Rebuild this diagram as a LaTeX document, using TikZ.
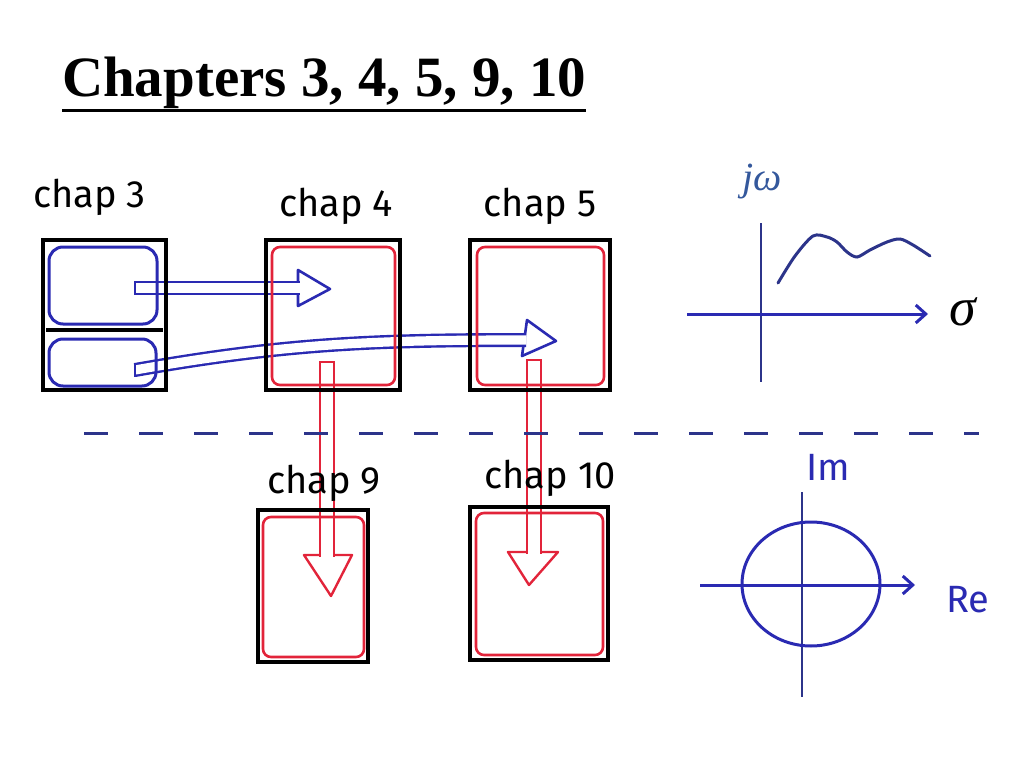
\documentclass[tikz,border=0pt]{standalone}
\usepackage{fontspec}
\setmainfont{Liberation Serif}
\newfontfamily\handfont{Fira Sans}
\usetikzlibrary{positioning,calc,arrows.meta}
\definecolor{inkred}{RGB}{226,36,58}
\definecolor{inkblue}{RGB}{42,42,178}
\definecolor{inknavy}{RGB}{44,52,138}
\definecolor{labelblue}{RGB}{52,88,156}
\begin{document}
\begin{tikzpicture}[x=0.5pt,y=0.5pt]
\tikzset{ >={Straight Barb[length=5pt,width=9pt]}, inner sep=0pt, outer sep=0pt,
  box/.style={draw, line width=2pt},
  redbox/.style={draw=inkred, line width=1.3pt, rounded corners=4pt},
  bluebox/.style={draw=inkblue, line width=1.5pt, rounded corners=7pt},
  chaplbl/.style={font=\handfont\fontsize{19}{23}\selectfont},
  axislbl/.style={text=inkblue, font=\handfont\fontsize{19}{22}\selectfont},
  bshaft/.style={draw=inkblue, line width=1.2pt, double=white, double distance=4.6pt},
  rshaft/.style={draw=inkred, line width=1.2pt, double=white, double distance=5.6pt},
  bhead/.style={draw=inkblue, line width=1.3pt, fill=white, line join=round},
  rhead/.style={draw=inkred, line width=1.2pt, fill=white, line join=round},
}
\useasboundingbox (0,0) rectangle (1024,768);

% title
\node [anchor=base west, font=\bfseries\fontsize{28.5}{34}\selectfont] (title) at (62,671) {Chapters 3, 4, 5, 9, 10};
\draw [line width=1.5pt] ($(title.base west)+(0,-13)$) -- ($(title.base east)+(0,-13)$);

% hollow arrows
\coordinate (a1s) at (135,480);
\coordinate (a1e) at (298,480);
\coordinate (a1t) at (330,479);
\draw [bhead] ($(a1e)+(0,18)$) -- (a1t) -- ($(a1e)+(0,-18)$) -- cycle;
\draw [bshaft] (a1s) -- ($(a1e)+(2,0)$);
\draw [inkblue, line width=1.2pt] ($(a1s)+(0,7)$) -- ($(a1s)+(0,-7)$);

\coordinate (a2s) at (135,398);
\coordinate (a2e) at (524,428);
\coordinate (a2t) at (556,427);
\draw [bhead] ($(a2e)+(3,20)$) -- (a2t) -- ($(a2e)+(-2,-16)$) -- cycle;
\draw [bshaft] (a2s) to[out=10,in=180] ($(a2e)+(2,0)$);
\draw [inkblue, line width=1.2pt] ($(a2s)+(0,7)$) -- ($(a2s)+(0,-7)$);

\coordinate (r1s) at (327,406);
\coordinate (r1e) at (327,213);
\coordinate (r1t) at (331,172);
\draw [rhead] ($(r1e)+(-23,0)$) -- (r1t) -- ($(r1e)+(25,0)$) -- cycle;
\draw [rshaft] (r1s) -- ($(r1e)+(0,-2)$);
\draw [inkred, line width=1.2pt] ($(r1s)+(-8,0)$) -- ($(r1s)+(8,0)$);

\coordinate (r2s) at (534,408);
\coordinate (r2e) at (534,216);
\coordinate (r2t) at (529,183);
\draw [rhead] ($(r2e)+(-26,0)$) -- (r2t) -- ($(r2e)+(24,0)$) -- cycle;
\draw [rshaft] (r2s) -- ($(r2e)+(0,-2)$);
\draw [inkred, line width=1.2pt] ($(r2s)+(-8,0)$) -- ($(r2s)+(8,0)$);

% chapter boxes
\node [box, minimum width=61.5pt, minimum height=75pt] (c3) at (104.5,453) {};
\node [box, minimum width=67pt, minimum height=75pt] (c4) at (333,453) {};
\node [box, minimum width=70pt, minimum height=75pt] (c5) at (540,453) {};
\node [box, minimum width=55pt, minimum height=76pt] (c9) at (313,182) {};
\node [box, minimum width=69pt, minimum height=76.5pt] (c10) at (539,184.5) {};

\node [bluebox, minimum width=54pt, minimum height=38.5pt] (b3a) at (103,482.5) {};
\node [bluebox, minimum width=53.5pt, minimum height=23.5pt] (b3b) at (102.5,405.5) {};
\draw [line width=2pt] (46,438) -- (163,438);

\node [redbox, minimum width=61.5pt, minimum height=69pt] (r4) at (333.5,452) {};
\node [redbox, minimum width=63.5pt, minimum height=69pt] (r5) at (540.5,452) {};
\node [redbox, minimum width=50.5pt, minimum height=70pt] (r9) at (313.5,181) {};
\node [redbox, minimum width=63.5pt, minimum height=71pt] (r10) at (539.5,184) {};

\node [chaplbl, above=12pt of c3, xshift=-7.5pt] (l3) {chap 3};
\node [chaplbl, above=7.5pt of c4, xshift=1.5pt] (l4) {chap 4};
\node [chaplbl, above=7.5pt of c5] (l5) {chap 5};
\node [chaplbl, above=4pt of c9, xshift=5.5pt] (l9) {chap 9};
\node [chaplbl, above=5pt of c10, xshift=5.5pt] (l10) {chap 10};

\draw [inknavy, line width=1.5pt, dash pattern=on 12pt off 15.5pt] (84,335) -- (979,335);

% s-plane
\draw [inknavy, line width=1.3pt] (761,545) -- (761,386);
\draw [inkblue, line width=1.5pt, ->] (687,454) -- (928,454);
\draw [inknavy, line width=1.5pt, line cap=round] plot[smooth] coordinates {(778,485) (795,512) (813,532) (827,531) (837,526) (847,516) (857,511) (870,518) (887,526) (900,529) (913,523) (930,512)};
\node [text=labelblue, font=\itshape\fontsize{20}{24}\selectfont] (jw) at (762,586) {jω};
\node [font=\itshape\fontsize{27}{32}\selectfont] (sig) at (963,456) {σ};

% z-plane
\draw [inknavy, line width=1.3pt] (802,276) -- (802,71);
\draw [inkblue, line width=1.5pt, ->] (700,183) -- (915,183);
\draw [inkblue, line width=1.5pt] (811,184) ellipse [x radius=69, y radius=62];
\node [axislbl] (im) at (828,301) {Im};
\node [axislbl] (re) at (968,168) {Re};
\end{tikzpicture}
\end{document}
